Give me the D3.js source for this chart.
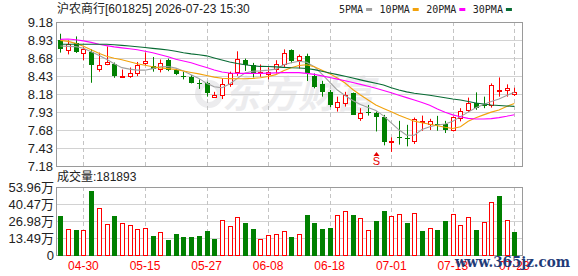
<!DOCTYPE html>
<html>
<head>
<meta charset="utf-8">
<script src="https://cdn.jsdelivr.net/npm/d3@7"></script>
<style>
  body { margin: 0; background: #fff; overflow: hidden; }
  svg { display: block; }
</style>
</head>
<body>
<div id="chart"></div>
<script>
// data

const title = "沪农商行[601825] 2026-07-23 15:30";
const volumeTitle = "成交量";
const lastVolume = 181893;

const dates = [
  "04-27","04-28","04-29","04-30","05-06","05-07","05-08","05-11","05-12","05-13",
  "05-14","05-15","05-18","05-19","05-20","05-21","05-22","05-25","05-26","05-27",
  "05-28","05-29","06-01","06-02","06-03","06-04","06-05","06-08","06-09","06-10",
  "06-11","06-12","06-15","06-16","06-17","06-18","06-22","06-23","06-24","06-25",
  "06-26","06-29","06-30","07-01","07-02","07-03","07-06","07-07","07-08","07-09",
  "07-10","07-13","07-14","07-15","07-16","07-17","07-20","07-21","07-22","07-23"
];

const open = [
  8.925,8.787,8.893,8.755,8.770,8.534,8.598,8.590,8.419,8.432,
  8.465,8.612,8.570,8.534,8.649,8.520,8.428,8.419,8.327,8.327,
  8.143,8.166,8.322,8.480,8.649,8.580,8.465,8.460,8.525,8.603,
  8.787,8.649,8.704,8.432,8.318,8.212,7.997,8.052,8.190,7.853,
  7.928,7.922,7.867,7.514,7.583,7.569,7.522,7.790,7.766,7.766,
  7.766,7.683,7.845,7.955,8.052,8.028,8.028,8.221,8.239,8.180
];
const high = [
  9.017,8.925,8.980,8.830,8.800,8.755,8.840,8.617,8.520,8.548,
  8.625,8.755,8.694,8.659,8.672,8.534,8.490,8.442,8.383,8.350,
  8.210,8.397,8.490,8.773,8.672,8.612,8.590,8.548,8.649,8.800,
  8.800,8.728,8.740,8.465,8.363,8.235,8.143,8.210,8.200,7.983,
  8.028,7.936,7.890,7.577,7.807,7.752,7.853,7.880,7.835,7.876,
  7.807,7.867,7.983,8.130,8.203,8.143,8.327,8.410,8.314,8.267
];
const low = [
  8.755,8.730,8.750,8.650,8.336,8.490,8.580,8.405,8.405,8.405,
  8.428,8.580,8.490,8.480,8.497,8.442,8.383,8.327,8.250,8.143,
  8.143,8.110,8.280,8.432,8.500,8.410,8.420,8.383,8.465,8.556,
  8.608,8.534,8.360,8.259,8.143,7.997,7.936,8.005,7.890,7.807,
  7.880,7.660,7.467,7.376,7.477,7.453,7.486,7.670,7.680,7.670,
  7.638,7.660,7.800,7.928,7.960,7.983,7.991,8.143,8.143,8.153
];
const close = [
  8.810,8.880,8.763,8.800,8.580,8.580,8.620,8.432,8.432,8.465,
  8.580,8.635,8.534,8.617,8.520,8.456,8.414,8.336,8.314,8.190,
  8.166,8.314,8.465,8.663,8.580,8.474,8.490,8.490,8.598,8.755,
  8.635,8.704,8.465,8.277,8.212,8.028,8.066,8.166,7.890,7.914,
  7.916,7.867,7.514,7.532,7.569,7.555,7.831,7.807,7.803,7.752,
  7.683,7.859,7.950,8.060,7.991,8.014,8.304,8.235,8.259,8.212
];

// 万 (ten thousand lots)
const volume = [
  30.9,20.4,19.8,19.8,50.8,37.0,24.4,30.9,25.1,23.6,
  20.4,21.2,15.1,18.0,11.9,16.7,14.3,14.3,14.8,19.0,
  12.7,27.5,23.0,30.4,25.6,20.6,12.4,15.6,16.7,19.0,
  14.5,16.7,31.7,25.6,20.6,21.4,31.7,34.9,31.7,29.1,
  19.8,27.0,34.9,30.9,32.5,25.6,33.1,19.0,21.7,19.8,
  27.0,32.5,23.8,29.9,19.8,26.2,41.8,46.8,27.5,18.19
];
// r = up day (red hollow bar), g = down day (green bar)
const volumeDir = [
  "g","r","g","r","g","r","r","g","r","r",
  "r","r","g","r","g","g","g","g","g","g",
  "g","r","r","r","g","g","r","r","r","r",
  "g","r","g","g","g","g","r","r","g","r",
  "r","g","g","r","r","g","r","g","r","g",
  "g","r","r","r","g","r","r","g","r","g"
];

const ma5 = [
  8.846,8.842,8.838,8.815,8.766,8.718,8.663,8.601,8.546,8.525,
  8.511,8.511,8.532,8.557,8.562,8.539,8.501,8.446,8.397,8.328,
  8.281,8.267,8.318,8.397,8.470,8.497,8.501,8.511,8.525,8.587,
  8.615,8.635,8.621,8.559,8.456,8.346,8.235,8.159,8.090,8.035,
  7.994,7.952,7.877,7.780,7.683,7.608,7.608,7.686,7.725,7.750,
  7.763,7.801,7.866,7.928,7.990,8.035,8.077,8.111,8.159,8.203
];
const ma10 = [
  8.925,8.911,8.883,8.842,8.794,8.746,8.704,8.677,8.656,8.628,
  8.601,8.580,8.559,8.543,8.532,8.521,8.500,8.479,8.459,8.438,
  8.414,8.398,8.394,8.392,8.392,8.397,8.405,8.423,8.449,8.504,
  8.546,8.576,8.587,8.559,8.511,8.463,8.401,8.332,8.242,8.166,
  8.097,8.028,7.980,7.932,7.884,7.842,7.803,7.780,7.759,7.739,
  7.718,7.701,7.725,7.801,7.849,7.890,7.928,7.959,8.008,8.049
];
const ma20 = [
  8.939,8.943,8.934,8.918,8.897,8.870,8.852,8.835,8.821,8.808,
  8.794,8.773,8.752,8.725,8.697,8.663,8.638,8.613,8.580,8.548,
  8.514,8.486,8.472,8.467,8.466,8.466,8.467,8.470,8.474,8.477,
  8.479,8.477,8.467,8.452,8.432,8.410,8.387,8.363,8.339,8.314,
  8.288,8.259,8.228,8.197,8.163,8.130,8.097,8.063,8.024,7.973,
  7.925,7.890,7.863,7.842,7.832,7.832,7.838,7.852,7.871,7.893
];
const ma30 = [
  8.872,8.872,8.872,8.872,8.872,8.872,8.870,8.863,8.856,8.846,
  8.837,8.826,8.814,8.803,8.791,8.773,8.752,8.737,8.725,8.710,
  8.681,8.652,8.624,8.603,8.586,8.572,8.563,8.561,8.557,8.550,
  8.544,8.541,8.534,8.518,8.497,8.472,8.449,8.426,8.401,8.376,
  8.352,8.329,8.304,8.266,8.235,8.210,8.191,8.176,8.162,8.146,
  8.128,8.111,8.097,8.077,8.056,8.042,8.028,8.021,8.014,8.008
];

const maNames = ["5PMA", "10PMA", "20PMA", "30PMA"];
const maColors = ["#a0a0a0", "#f2a20c", "#ff00ff", "#086b34"];

const priceTicks = [9.18, 8.93, 8.68, 8.43, 8.18, 7.93, 7.68, 7.43, 7.18];
const volumeTicks = [53.96, 40.47, 26.98, 13.49, 0];
const dateTicks = ["04-30", "05-15", "05-27", "06-08", "06-18", "07-01", "07-13", "07-23"];

const signals = [{ date: "06-29", label: "S" }];

// layout
const width = 578, height = 276;
const left = 56, right = 522;
const pTop = 22, pBot = 166;
const vTop = 187, vBot = 255;

const upColor = "#ff0000";
const downColor = "#008000";
const gridColor = "#d2d2d2";
const frameColor = "#9a9a9a";
const latin = "'Liberation Sans', 'Noto Sans CJK SC', sans-serif";

const svg = d3.select("#chart").append("svg")
  .attr("width", width)
  .attr("height", height);

svg.append("rect").attr("width", width).attr("height", height).attr("fill", "#fff");

const x = d3.scaleBand().domain(dates).range([56.5, 518.2]);
const cx = d => x(d) + x.bandwidth() / 2;
const yP = d3.scaleLinear().domain([7.18, 9.18]).range([pBot, pTop]);
const yV = d3.scaleLinear().domain([0, 53.96]).range([vBot, vTop]);
const crisp = v => Math.round(v) + 0.5;

const bars = dates.map((d, i) => ({
  date: d, o: open[i], h: high[i], l: low[i], c: close[i],
  v: volume[i], vUp: volumeDir[i] === "r"
}));

// watermark behind the plot
svg.append("text")
  .attr("x", 222).attr("y", 108)
  .attr("font-family", "'Noto Sans CJK SC', sans-serif")
  .attr("font-size", 38)
  .attr("font-weight", "bold")
  .attr("font-style", "italic")
  .attr("fill", "#ececee")
  .text("东方财富");
svg.append("circle")
  .attr("cx", 209).attr("cy", 94).attr("r", 11)
  .attr("fill", "none").attr("stroke", "#ececee").attr("stroke-width", 6);

// grid
const grid = svg.append("g");
grid.selectAll(".hp").data(priceTicks).join("line")
  .attr("x1", left).attr("x2", right)
  .attr("y1", d => crisp(yP(d))).attr("y2", d => crisp(yP(d)))
  .attr("stroke", gridColor);
grid.selectAll(".hv").data(volumeTicks).join("line")
  .attr("class", "hv")
  .attr("x1", left).attr("x2", right)
  .attr("y1", d => crisp(yV(d))).attr("y2", d => crisp(yV(d)))
  .attr("stroke", gridColor);

[[pTop, pBot], [vTop, vBot]].forEach(([t, b]) => {
  grid.append("g").selectAll("line").data(dateTicks).join("line")
    .attr("x1", d => crisp(cx(d))).attr("x2", d => crisp(cx(d)))
    .attr("y1", t).attr("y2", b)
    .attr("stroke", "#c4c4c4")
    .attr("stroke-dasharray", "4,3");
});

// frames
[[pTop, pBot], [vTop, vBot]].forEach(([t, b]) => {
  svg.append("rect")
    .attr("x", left + 0.5).attr("y", t + 0.5)
    .attr("width", right - left).attr("height", b - t)
    .attr("fill", "none").attr("stroke", frameColor);
});

// candles
const candles = svg.append("g");
candles.selectAll("line").data(bars).join("line")
  .attr("x1", d => Math.round(cx(d.date)) + 0.5)
  .attr("x2", d => Math.round(cx(d.date)) + 0.5)
  .attr("y1", d => yP(d.h)).attr("y2", d => yP(d.l))
  .attr("stroke", d => d.c >= d.o ? upColor : downColor);

candles.selectAll("rect").data(bars).join("rect")
  .each(function (d) {
    const px = Math.round(cx(d.date));
    const top = Math.round(yP(Math.max(d.o, d.c)));
    const bot = Math.round(yP(Math.min(d.o, d.c)));
    const sel = d3.select(this);
    if (d.c >= d.o) {
      sel.attr("x", px - 1.5).attr("y", top + 0.5)
        .attr("width", 4).attr("height", Math.max(bot - top, 0))
        .attr("fill", "#fff").attr("stroke", upColor);
    } else {
      sel.attr("x", px - 2).attr("y", top)
        .attr("width", 5).attr("height", Math.max(bot - top, 1))
        .attr("fill", downColor);
    }
  });

// moving averages
const line = d3.line().x((v, i) => cx(dates[i])).y(v => yP(v));
svg.append("g").selectAll("path")
  .data([ma5, ma10, ma20, ma30])
  .join("path")
  .attr("d", line)
  .attr("fill", "none")
  .attr("stroke", (d, i) => maColors[i])
  .attr("stroke-width", 1.1);

// sell signal
const sig = svg.append("g").selectAll("g").data(signals).join("g")
  .attr("transform", d => `translate(${Math.round(cx(d.date)) + 0.5},0)`);
sig.append("path").attr("d", "M-3,156 L0,152 L3,156 Z").attr("fill", "#e60000");
sig.append("text")
  .attr("y", 165).attr("text-anchor", "middle")
  .attr("font-family", latin).attr("font-size", 11)
  .attr("fill", "#e60000")
  .text(d => d.label);

// volume bars
const vol = svg.append("g");
vol.selectAll("rect").data(bars).join("rect")
  .each(function (d) {
    const px = Math.round(cx(d.date));
    const top = Math.round(yV(d.v));
    const sel = d3.select(this);
    if (d.vUp) {
      sel.attr("x", px - 1.5).attr("y", top + 0.5)
        .attr("width", 4).attr("height", vBot - top)
        .attr("fill", "#fff").attr("stroke", upColor);
    } else {
      sel.attr("x", px - 2).attr("y", top)
        .attr("width", 5).attr("height", vBot - top + 1)
        .attr("fill", downColor);
    }
  });

// axes
svg.append("g")
  .attr("transform", `translate(${left - 3},0)`)
  .call(d3.axisLeft(yP).tickValues(priceTicks).tickSize(0).tickPadding(0)
    .tickFormat(d3.format(".2f")))
  .call(g => g.select(".domain").remove())
  .call(g => g.selectAll("text")
    .attr("font-family", latin).attr("font-size", 13).attr("fill", "#222"));

svg.append("g")
  .attr("transform", `translate(${left - 2},0)`)
  .call(d3.axisLeft(yV).tickValues(volumeTicks).tickSize(0).tickPadding(0)
    .tickFormat(d => d === 0 ? "0" : d3.format(".2f")(d) + "万"))
  .call(g => g.select(".domain").remove())
  .call(g => g.selectAll("text")
    .attr("font-family", latin).attr("font-size", 13).attr("fill", "#222"));

svg.append("g")
  .attr("transform", `translate(0,261)`)
  .call(d3.axisBottom(x).tickValues(dateTicks).tickSize(0).tickPadding(0))
  .call(g => g.select(".domain").remove())
  .call(g => g.selectAll("text")
    .attr("font-family", latin).attr("font-size", 12).attr("fill", "#f00"));

// titles
svg.append("text")
  .attr("x", 57).attr("y", 13)
  .attr("font-family", latin).attr("font-size", 12).attr("fill", "#222")
  .text(title);

svg.append("text")
  .attr("x", 57).attr("y", 181)
  .attr("font-family", latin).attr("font-size", 12).attr("fill", "#222")
  .text(`${volumeTitle}:${lastVolume}`);

// legend
const legend = svg.append("g").attr("transform", "translate(339,13)");
let lx = 0;
maNames.forEach((name, i) => {
  const t = legend.append("text")
    .attr("x", lx).attr("y", 0)
    .attr("font-family", "'DejaVu Sans Mono', monospace")
    .attr("font-size", 10).attr("fill", "#222")
    .text(name);
  lx += t.node().getComputedTextLength() + 3;
  legend.append("rect")
    .attr("x", lx).attr("y", -5).attr("width", 6).attr("height", 3)
    .attr("fill", maColors[i]);
  lx += 6 + 7.5;
});

// site watermark
svg.append("text")
  .attr("x", 455).attr("y", 267)
  .attr("font-family", "'DejaVu Serif', serif")
  .attr("font-size", 15).attr("font-weight", "bold")
  .attr("fill", "#1f3b78")
  .attr("textLength", 115).attr("lengthAdjust", "spacingAndGlyphs")
  .text("www.365jz.com");
</script>
</body>
</html>
